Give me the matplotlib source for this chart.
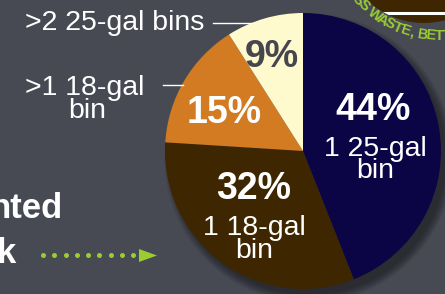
import numpy as np
import matplotlib
matplotlib.use('Agg')
import matplotlib.pyplot as plt
from matplotlib.patches import Circle, Polygon

# ---- data ----
labels = ['1 25-gal bin', '1 18-gal bin', '>1 18-gal bin', '>2 25-gal bins']
shares = [44, 32, 15, 9]
colors = ['#0b0546', '#3e2600', '#d27b22', '#fffacd']
pct_colors = ['white', 'white', 'white', '#46464e']
logo_text = 'LESS WASTE, BETTER'

plt.rcParams['font.family'] = ['Liberation Sans', 'DejaVu Sans']

W, H = 445, 294
bg = '#474a53'
green = '#9acd32'

fig = plt.figure(figsize=(W / 100, H / 100), dpi=100)
fig.patch.set_facecolor(bg)
ax = fig.add_axes([0, 0, 1, 1])
ax.set_facecolor(bg)


def Y(y):
    return H - y


# ---- logo fragment (top right) ----
lc = (424, Y(-59))
logo = Circle(lc, 82, color='#3e2600', lw=0, zorder=0.5)
ax.add_patch(logo)
stripe, = ax.plot([382, 447], [Y(13), Y(13)], color='white', lw=2.2, zorder=0.6,
                  solid_capstyle='butt')
stripe.set_clip_path(logo)
tc = np.array([440, Y(-75)])
tr = 111
adv = {' ': 2.4, ',': 2.4, 'W': 5.6, 'M': 5.0}
angles = [None] * len(logo_text)
a = 234.0
angles[5] = a
for i in range(6, len(logo_text)):
    a += (adv.get(logo_text[i - 1], 4.3) + adv.get(logo_text[i], 4.3)) / 2
    angles[i] = a
a = 234.0
for i in range(4, -1, -1):
    a -= (adv.get(logo_text[i + 1], 4.3) + adv.get(logo_text[i], 4.3)) / 2
    angles[i] = a
for ch, ang in zip(logo_text, angles):
    r = np.deg2rad(ang)
    ax.text(tc[0] + tr * np.cos(r), tc[1] + tr * np.sin(r), ch, rotation=ang + 90,
            rotation_mode='anchor', ha='center', va='center', color=green,
            fontsize=10.5, fontweight='bold', zorder=0.7)

# ---- pie with shadow ----
cx, cy, R = 303, Y(151), 138
for r in np.arange(145, 136, -0.75):
    ax.add_patch(Circle((cx + 6, cy - 7), r, color='black', alpha=0.035, lw=0, zorder=1))
ax.pie(shares, colors=colors, startangle=90, counterclock=False, center=(cx, cy),
       radius=R, wedgeprops=dict(linewidth=0, zorder=2))

# percentages and inner labels
pct_pos = [(373, 120), (254, 199), (224, 123), (272, 67)]
for v, (x, y), c in zip(shares, pct_pos, pct_colors):
    ax.text(x, Y(y), f'{v}%', ha='center', va='baseline', color=c,
            fontsize=27, fontweight='bold', zorder=3)

inner = [(0, 375, 156, 178), (1, 254, 235, 258)]
for idx, x, y1, y2 in inner:
    l1, l2 = labels[idx].rsplit(' ', 1)
    ax.text(x, Y(y1), l1, ha='center', va='baseline', color='white', fontsize=20.5, zorder=3)
    ax.text(x, Y(y2), l2, ha='center', va='baseline', color='white', fontsize=20.5, zorder=3)

# outside labels
ax.text(25, Y(30), labels[3], ha='left', va='baseline', color='white', fontsize=20.5, zorder=3)
ax.plot([213, 252], [Y(23), Y(23)], color='white', lw=1.0, zorder=3)
l1, l2 = labels[2].rsplit(' ', 1)
ax.text(25, Y(95), l1, ha='left', va='baseline', color='white', fontsize=20.5, zorder=3)
ax.text(87, Y(118), l2, ha='center', va='baseline', color='white', fontsize=20.5, zorder=3)
ax.plot([163, 183], [Y(85), Y(85)], color='white', lw=1.0, zorder=3)

# cropped bold text at left
ax.text(63, Y(218), 'nted', ha='right', va='baseline', color='white', fontsize=25,
        fontweight='bold', zorder=3)
ax.text(16, Y(263), 'k', ha='right', va='baseline', color='white', fontsize=25,
        fontweight='bold', zorder=3)

# dotted arrow
dx = np.linspace(43, 133, 9)
ax.plot(dx, np.full_like(dx, Y(255)), 'o', color=green, ms=3.6, mew=0, zorder=3)
ax.add_patch(Polygon([(139, Y(249)), (139, Y(262)), (157, Y(255.5))], closed=True,
                     color=green, lw=0, zorder=3))

ax.set_xlim(0, W)
ax.set_ylim(0, H)
ax.set_aspect('auto')
ax.axis('off')
fig.savefig('out.png', dpi=100, facecolor=bg)
